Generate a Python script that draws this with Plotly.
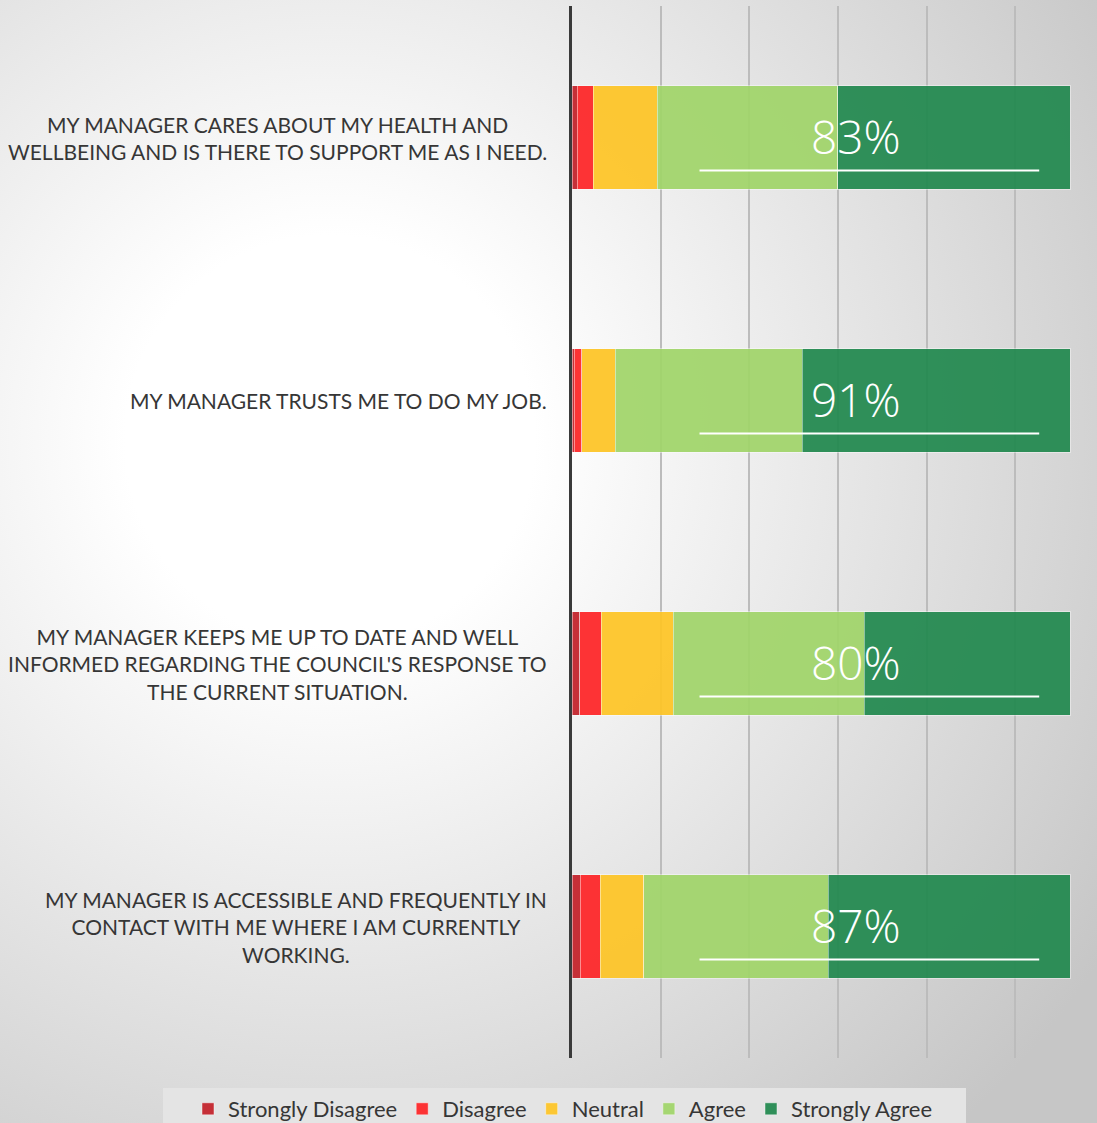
import base64
import plotly.graph_objects as go

categories = [
    "MY MANAGER CARES ABOUT MY HEALTH AND<br>WELLBEING AND IS THERE TO SUPPORT ME AS I NEED.",
    "MY MANAGER TRUSTS ME TO DO MY JOB.",
    "MY MANAGER KEEPS ME UP TO DATE AND WELL<br>INFORMED REGARDING THE COUNCIL'S RESPONSE TO<br>THE CURRENT SITUATION.",
    "MY MANAGER IS ACCESSIBLE AND FREQUENTLY IN<br>CONTACT WITH ME WHERE I AM CURRENTLY<br>WORKING.",
]
series_names = ["Strongly Disagree", "Disagree", "Neutral", "Agree", "Strongly Agree"]
strongly_disagree = [1.1, 0.5, 1.6, 1.7]
disagree = [3.2, 1.5, 4.3, 4.0]
neutral = [12.8, 6.7, 14.4, 8.7]
agree = [36.3, 37.5, 38.4, 37.0]
strongly_agree = [46.6, 53.8, 41.3, 48.6]
agree_labels = ["83%", "91%", "80%", "87%"]
colors = ["#c3222a", "#fe2527", "#fec526", "#a1d56a", "#22894f"]

W, H = 1097, 1123
ML, MR, MT, MB = 572, 0, 6, 65
PW = W - ML - MR
PH = H - MT - MB


def px_x(px):
    return (px - ML) / PW


def px_y(py):
    return (H - MB - py) / PH


fig = go.Figure()
all_series = [strongly_disagree, disagree, neutral, agree, strongly_agree]
ypos = list(range(len(categories)))
for name, vals, col in zip(series_names, all_series, colors):
    fig.add_trace(go.Bar(
        y=ypos, x=vals, name=name, orientation="h",
        marker=dict(color=col, line=dict(color="rgba(255,255,255,0.45)", width=1)),
        opacity=0.93, width=0.395,
    ))

# category labels
for i, cat in enumerate(categories):
    fig.add_annotation(
        x=px_x(549), xref="paper", y=i, yref="y",
        text=cat, showarrow=False, xanchor="right", yanchor="middle", align="center",
        font=dict(family="Lato, Carlito, sans-serif", size=21, color="#363636"),
    )

# percentage labels and underline
for i, lab in enumerate(agree_labels):
    fig.add_annotation(
        x=57, xref="x", y=i, yref="y", text=lab, showarrow=False,
        xanchor="center", yanchor="middle", yshift=2,
        font=dict(family="Open Sans, sans-serif", size=46, color="white", weight=300),
    )
    fig.add_shape(type="line", xref="x", yref="y", x0=25.6, x1=93.8,
                  y0=i + 0.125, y1=i + 0.125, line=dict(color="white", width=2))

svg = (
    f'<svg xmlns="http://www.w3.org/2000/svg" width="{W}" height="{H}" viewBox="0 0 {W} {H}" preserveAspectRatio="none">'
    '<defs><radialGradient id="g" gradientUnits="userSpaceOnUse" cx="330" cy="440" r="930">'
    '<stop offset="0" stop-color="#ffffff"/><stop offset="0.22" stop-color="#ffffff"/>'
    '<stop offset="1" stop-color="#c6c6c6"/></radialGradient></defs>'
    f'<rect width="{W}" height="{H}" fill="url(#g)"/></svg>'
)
src = "data:image/svg+xml;base64," + base64.b64encode(svg.encode()).decode()
fig.add_layout_image(dict(
    source=src, xref="paper", yref="paper",
    x=-ML / PW, y=1 + MT / PH, sizex=W / PW, sizey=H / PH,
    xanchor="left", yanchor="top", sizing="stretch", layer="below",
))

# legend background panel
fig.add_shape(type="rect", xref="paper", yref="paper",
              x0=px_x(163), x1=px_x(966), y0=px_y(1088), y1=px_y(1130),
              fillcolor="#e4e4e4", line=dict(width=0), layer="below")

fig.update_layout(
    width=W, height=H, barmode="stack",
    margin=dict(l=ML, r=MR, t=MT, b=MB, autoexpand=False),
    paper_bgcolor="white", plot_bgcolor="rgba(0,0,0,0)",
    xaxis=dict(range=[0, 105.4], dtick=17.8, tick0=0, showgrid=True, gridcolor="#bcbcbc",
               gridwidth=1.5, showticklabels=False, zeroline=False, showline=False, ticks=""),
    yaxis=dict(range=[3.5, -0.5], showticklabels=False, showgrid=False, zeroline=False,
               showline=True, linewidth=3, linecolor="#3a3a3a", ticks=""),
    legend=dict(orientation="h", x=px_x(188), xanchor="left", y=px_y(1088), yanchor="top",
                bgcolor="rgba(0,0,0,0)", font=dict(family="Lato, Carlito, sans-serif", size=22, color="#363636"),
                traceorder="normal", itemclick=False),
    showlegend=True,
)
fig.write_html("out.html", config={"displayModeBar": False},
               post_script="document.body.style.margin='0';document.body.style.overflow='hidden';")
